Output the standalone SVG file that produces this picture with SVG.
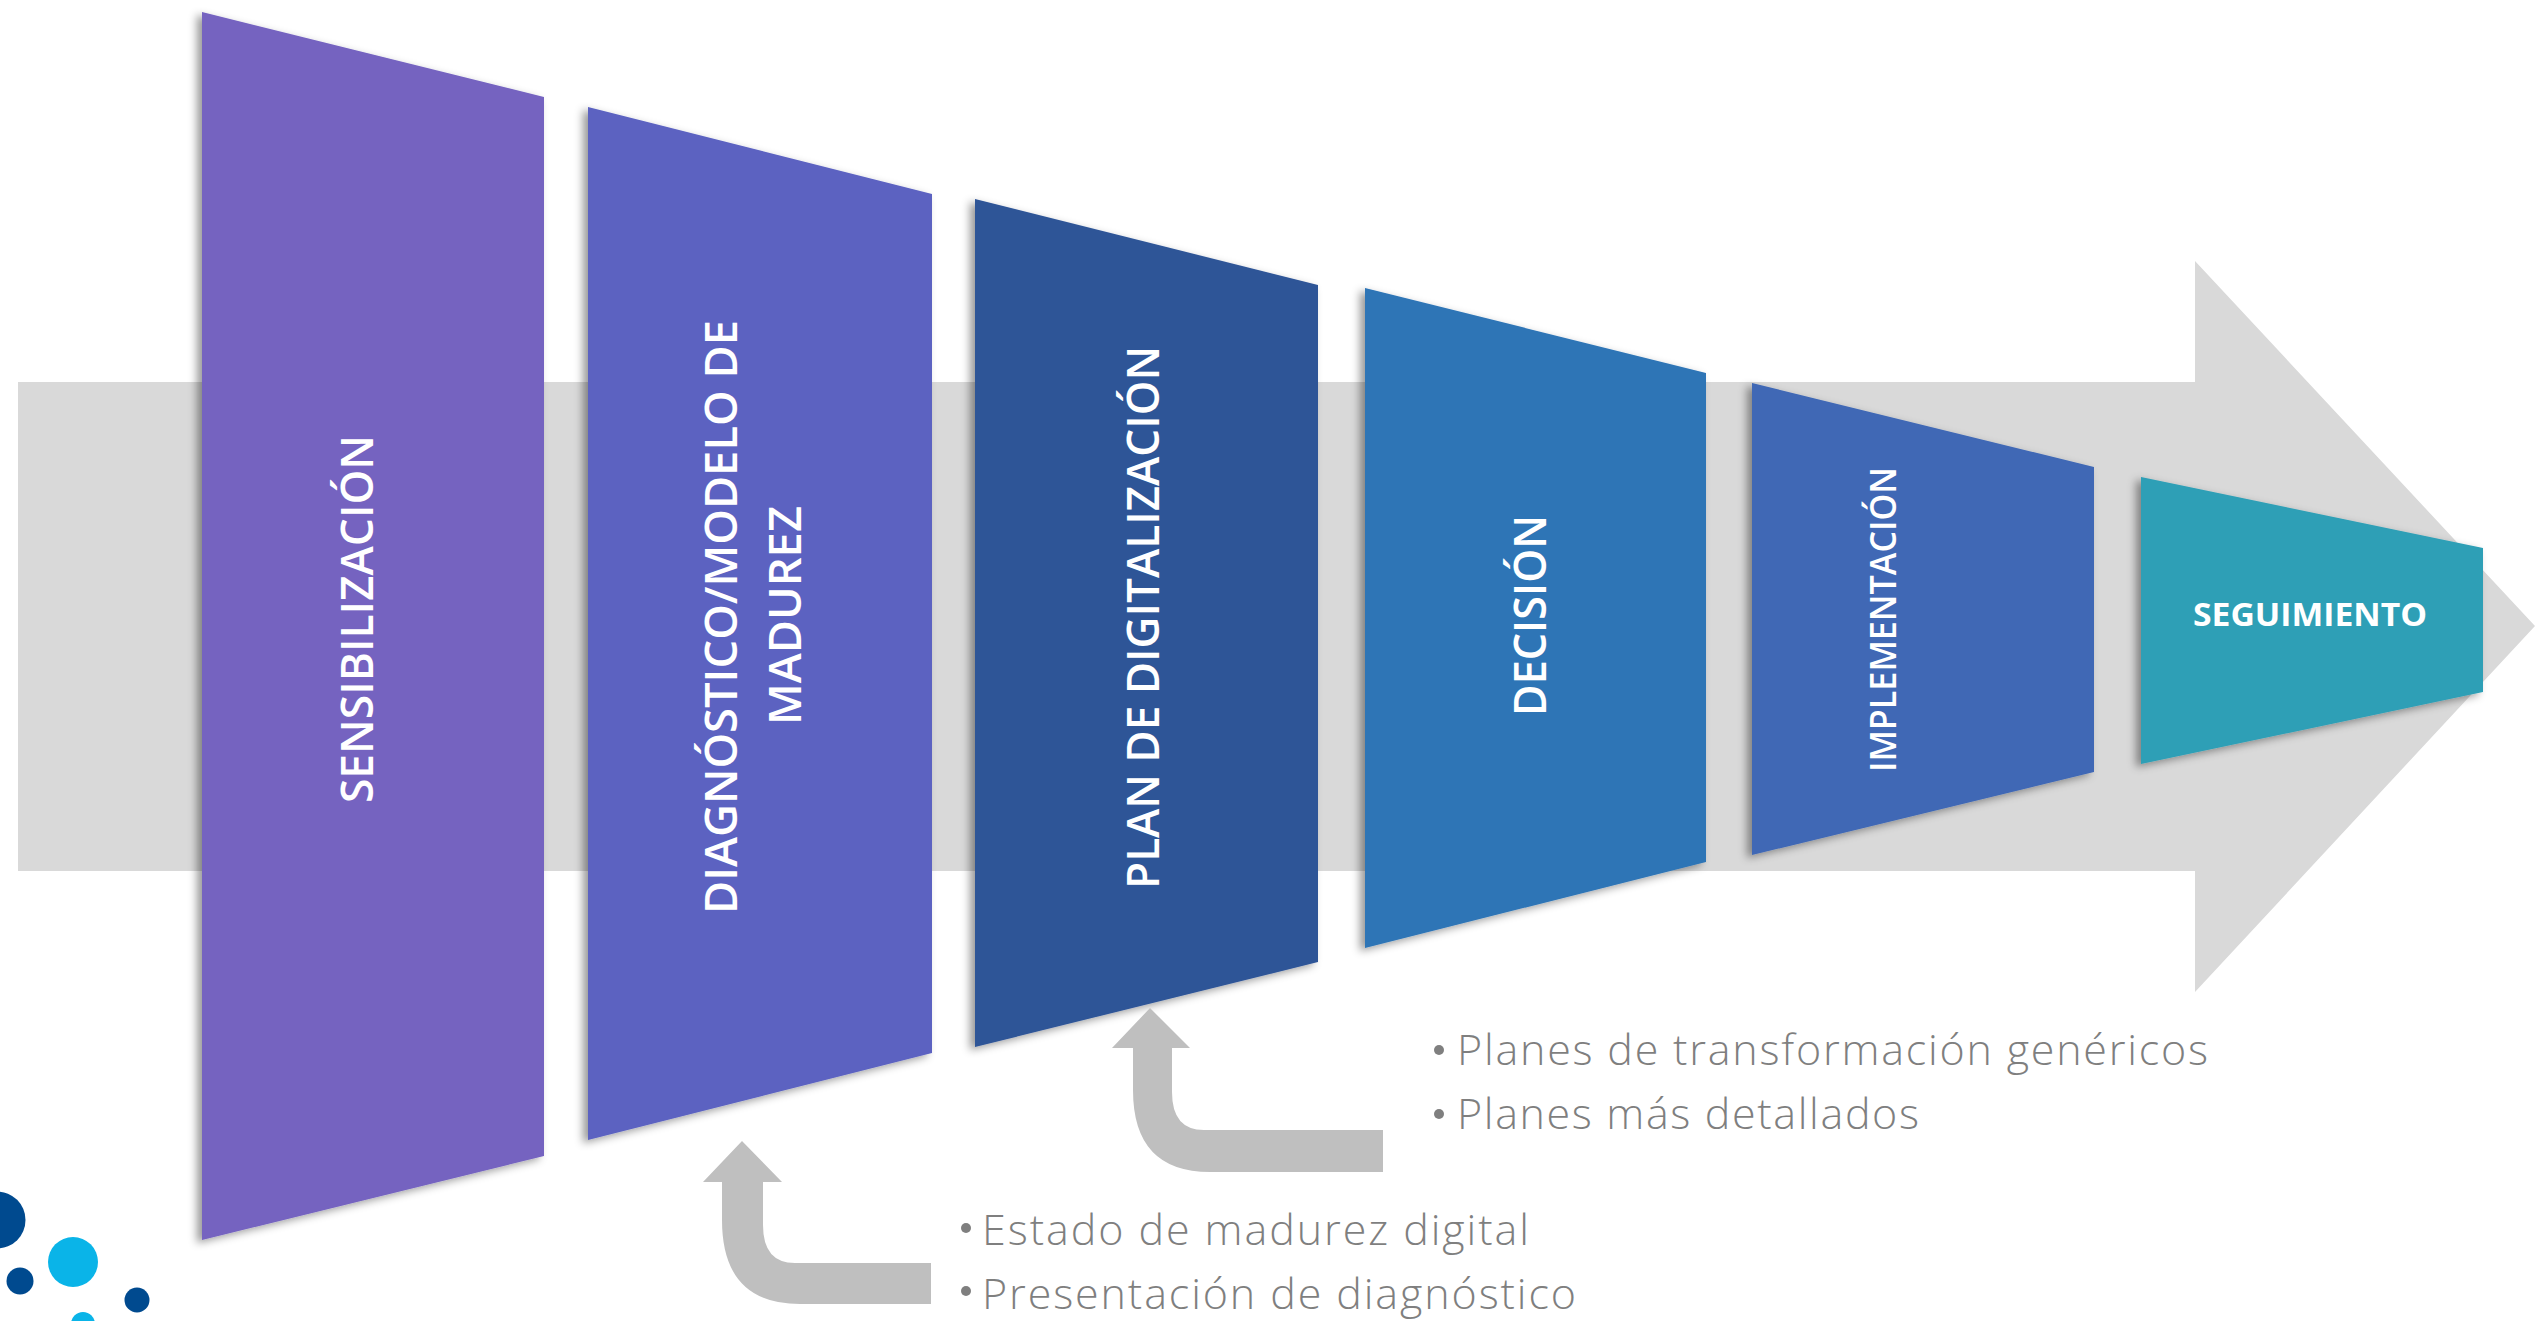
<svg xmlns="http://www.w3.org/2000/svg" width="2535" height="1321" viewBox="0 0 2535 1321">
<style>
.lbl{font-family:"Open Sans","Liberation Sans",sans-serif;font-weight:600;fill:#fff}
.note{font-family:"Open Sans","Liberation Sans",sans-serif;font-weight:300;font-size:43px;fill:#7f7f7f}
.bul{fill:#7f7f7f}
.stage{filter:url(#sh)}
.conn{fill:#bfbfbf}
.dk{fill:#004a8f}.cy{fill:#0ab4e8}
</style>
<defs><filter id="sh" x="-10%" y="-10%" width="120%" height="120%"><feDropShadow dx="-5" dy="3" stdDeviation="4" flood-color="#000" flood-opacity=".4"/></filter></defs>
<rect width="2535" height="1321" fill="#fff"/>
<g id="main-arrow"><polygon points="18,382 2195,382 2195,261 2535,626 2195,992 2195,871 18,871" fill="#d9d9d9"/></g>
<g id="s1" class="stage"><polygon points="202,12 544,97 544,1156 202,1240" fill="#7463c0"/></g>
<g id="s1t"><text class="lbl" font-size="46" textLength="368" lengthAdjust="spacingAndGlyphs" transform="translate(373,803) rotate(-90)">SENSIBILIZACIÓN</text></g>
<g id="s2" class="stage"><polygon points="588,107 932,194 932,1053 588,1140" fill="#5b62c1"/></g>
<g id="s2t"><text class="lbl" font-size="46" textLength="594" lengthAdjust="spacingAndGlyphs" transform="translate(737,914) rotate(-90)">DIAGNÓSTICO/MODELO DE</text><text class="lbl" font-size="46" textLength="219" lengthAdjust="spacingAndGlyphs" transform="translate(801,725) rotate(-90)">MADUREZ</text></g>
<g id="s3" class="stage"><polygon points="975,199 1318,285 1318,962 975,1047" fill="#2f5597"/></g>
<g id="s3t"><text class="lbl" font-size="46" textLength="543" lengthAdjust="spacingAndGlyphs" transform="translate(1159,889) rotate(-90)">PLAN DE DIGITALIZACIÓN</text></g>
<g id="s4" class="stage"><polygon points="1365,288 1706,373 1706,862 1365,948" fill="#2e75b6"/></g>
<g id="s4t"><text class="lbl" font-size="46" textLength="201" lengthAdjust="spacingAndGlyphs" transform="translate(1546,716) rotate(-90)">DECISIÓN</text></g>
<g id="s5" class="stage"><polygon points="1752,383 2094,467 2094,772 1752,855" fill="#3f68b5"/></g>
<g id="s5t"><text class="lbl" font-size="36" textLength="305" lengthAdjust="spacingAndGlyphs" transform="translate(1896,772) rotate(-90)">IMPLEMENTACIÓN</text></g>
<g id="s6" class="stage"><polygon points="2141,477 2483,548 2483,692 2141,764" fill="#2e9fb6"/></g>
<g id="s6t"><text class="lbl" font-size="33" font-weight="700" style="font-weight:700" x="2193" y="626" textLength="234" lengthAdjust="spacingAndGlyphs">SEGUIMIENTO</text></g>
<g id="connectors">
<path class="conn" d="M742,1141L782,1182H763V1225Q763,1263 795,1263H931V1304H800Q722,1304 722,1220V1182H703Z"/>
<path class="conn" d="M1150,1008L1190,1048H1172V1092Q1172,1130 1204,1130H1383V1172H1210Q1133,1172 1133,1090V1048H1112Z"/>
</g>
<g id="notes">
<circle class="bul" cx="1439" cy="1050" r="5"/><text class="note" x="1457" y="1065" textLength="751">Planes de transformación genéricos</text>
<circle class="bul" cx="1439" cy="1114" r="5"/><text class="note" x="1457" y="1129" textLength="462">Planes más detallados</text>
<circle class="bul" cx="966" cy="1228" r="5"/><text class="note" x="982" y="1245" textLength="547">Estado de madurez digital</text>
<circle class="bul" cx="966" cy="1291" r="5"/><text class="note" x="982" y="1309" textLength="594">Presentación de diagnóstico</text>
</g>
<g id="logo"><circle class="dk" cx="-3" cy="1220" r="28.5"/><circle class="cy" cx="73" cy="1262" r="25"/><circle class="dk" cx="20" cy="1281" r="13.5"/><circle class="dk" cx="137" cy="1300" r="12.5"/><circle class="cy" cx="83" cy="1324" r="12"/></g>
</svg>
